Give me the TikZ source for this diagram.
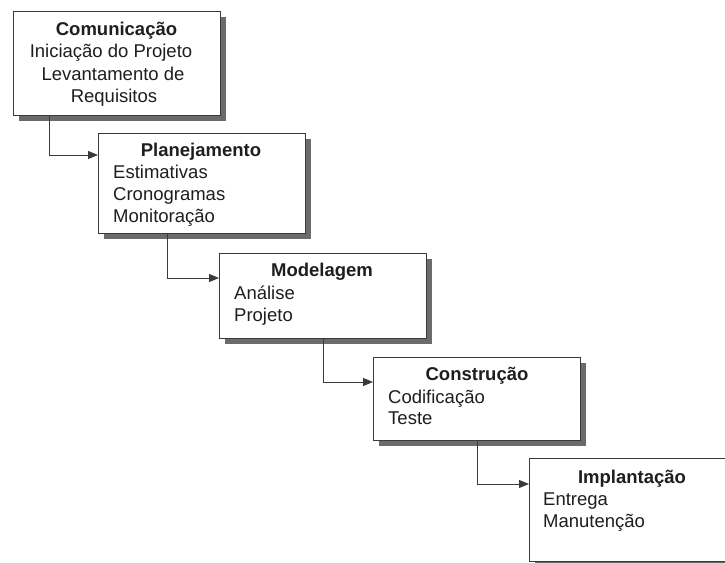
\documentclass[tikz,border=0pt]{standalone}
\usepackage{fontspec}
\setmainfont{Liberation Sans}
\usetikzlibrary{shadows,arrows.meta,calc}
\definecolor{ink}{HTML}{1E1E1E}
\definecolor{edge}{HTML}{3A3A3A}
\tikzset{
  stage/.style={draw=edge, line width=1pt, fill=white, anchor=north west,
    inner sep=0pt, minimum width=207pt,
    drop shadow={shadow xshift=5pt, shadow yshift=-5pt, fill=black!58, opacity=1}},
  title/.style={font=\fontsize{18.5}{22}\selectfont\bfseries, text=ink, anchor=base, inner sep=0pt},
  item/.style={font=\fontsize{18.5}{22}\selectfont, text=ink, anchor=base west, inner sep=0pt},
  itemc/.style={item, anchor=base},
  flow/.style={draw=edge, line width=1pt, -{Triangle[length=10pt,width=8pt]}}
}
\begin{document}
\begin{tikzpicture}[x=1pt,y=-1pt]
\fill[white] (0,0) rectangle (725,562);
\useasboundingbox (0,0) rectangle (725,562);
\begin{scope}
\clip (0,0) rectangle (725,562);

% stage boxes
\node[stage, minimum height=104pt] (b1) at (13,11) {};
\node[stage, minimum height=100pt] (b2) at (98,133) {};
\node[stage, minimum height=85pt]  (b3) at (219,253) {};
\node[stage, minimum height=83pt]  (b4) at (373,357) {};
\node[stage, minimum height=103pt, minimum width=300pt] (b5) at (529,458) {};

% connectors between stages
\draw[flow] ($(b1.south west)+(36,0)$) |- ($(b2.north west)+(0,22)$);
\draw[flow] ($(b2.south west)+(69,0)$) |- ($(b3.north west)+(0,25)$);
\draw[flow] ($(b3.south west)+(104,0)$) |- ($(b4.north west)+(0,25)$);
\draw[flow] ($(b4.south west)+(104,0)$) |- ($(b5.north west)+(0,26)$);

% Comunicação
\node[title] (t1) at (116.5,35) {Comunicação};
\node[itemc] (t1a) at (111,57) {Iniciação do Projeto};
\node[itemc] (t1b) at (113,80) {Levantamento de};
\node[itemc] (t1c) at (114,102) {Requisitos};

% Planejamento
\node[title] (t2) at (201,156) {Planejamento};
\node[item] (t2a) at (113,178) {Estimativas};
\node[item] (t2b) at (113,200) {Cronogramas};
\node[item] (t2c) at (113,222) {Monitoração};

% Modelagem
\node[title] (t3) at (322,276) {Modelagem};
\node[item] (t3a) at (234,299) {Análise};
\node[item] (t3b) at (234,321) {Projeto};

% Construção
\node[title] (t4) at (477,380) {Construção};
\node[item] (t4a) at (388,403) {Codificação};
\node[item] (t4b) at (388,424) {Teste};

% Implantação
\node[title] (t5) at (632,483) {Implantação};
\node[item] (t5a) at (543,505) {Entrega};
\node[item] (t5b) at (543,527) {Manutenção};
\end{scope}
\end{tikzpicture}
\end{document}
